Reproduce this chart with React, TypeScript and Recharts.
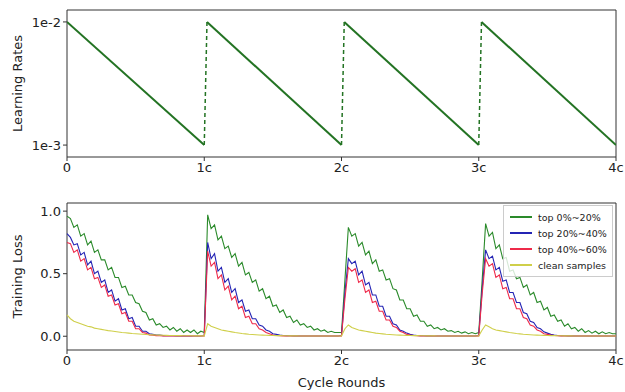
import React from "react";
import { LineChart, Line, XAxis, YAxis, ReferenceArea, Legend } from "recharts";

const cycleTicks = [0, 1, 2, 3, 4];
const lrTicks = [0.001, 0.01];
const lossTicks = [0, 0.5, 1];

// learning rate restarts (straight decay on log axis)
const lrHigh = 0.01;
const lrLow = 0.001;
const restartAt = [0, 1.02, 2.02, 3.02];
const cycleEnd = [1, 2, 3, 4];

// training loss, sampled every 1/40 cycle
const greenLoss = [
  0.96, 0.94, 0.87, 0.89, 0.8, 0.82, 0.73, 0.76, 0.67, 0.69, 0.61, 0.61, 0.53, 0.55, 0.47, 0.47, 0.39, 0.4, 0.33, 0.33,
  0.27, 0.26, 0.2, 0.19, 0.13, 0.14, 0.09, 0.1, 0.07, 0.08, 0.05, 0.07, 0.04, 0.06, 0.03, 0.05, 0.03, 0.05, 0.02, 0.04,
  0.03, 0.97, 0.86, 0.89, 0.77, 0.8, 0.7, 0.72, 0.63, 0.66, 0.56, 0.59, 0.49, 0.51, 0.43, 0.45, 0.36, 0.38, 0.3, 0.32,
  0.24, 0.25, 0.19, 0.21, 0.15, 0.16, 0.11, 0.13, 0.09, 0.1, 0.07, 0.08, 0.05, 0.06, 0.04, 0.05, 0.03, 0.04, 0.03, 0.03,
  0.03, 0.45, 0.87, 0.8, 0.82, 0.72, 0.75, 0.65, 0.68, 0.58, 0.61, 0.52, 0.53, 0.45, 0.46, 0.38, 0.37, 0.29, 0.29, 0.22,
  0.22, 0.16, 0.17, 0.12, 0.12, 0.08, 0.09, 0.06, 0.07, 0.05, 0.06, 0.04, 0.045, 0.03, 0.04, 0.025, 0.035, 0.02, 0.03, 0.02,
  0.03, 0.45, 0.9, 0.8, 0.83, 0.7, 0.73, 0.62, 0.63, 0.52, 0.53, 0.46, 0.47, 0.39, 0.41, 0.33, 0.35, 0.27, 0.28, 0.21,
  0.23, 0.16, 0.17, 0.12, 0.13, 0.08, 0.1, 0.06, 0.07, 0.04, 0.06, 0.03, 0.045, 0.025, 0.04, 0.02, 0.035, 0.02, 0.03, 0.02,
  0.02,
];

const blueLoss = [
  0.82, 0.79, 0.73, 0.74, 0.65, 0.67, 0.57, 0.6, 0.5, 0.52, 0.43, 0.45, 0.35, 0.37, 0.28, 0.3, 0.21, 0.22, 0.14, 0.15,
  0.08, 0.08, 0.04, 0.04, 0.02, 0.015, 0.01, 0.01, 0.005, 0.005, 0.004, 0.004, 0.003, 0.003, 0.003, 0.002, 0.002, 0.002, 0.002, 0.002,
  0.005, 0.75, 0.62, 0.66, 0.52, 0.55, 0.43, 0.46, 0.35, 0.38, 0.27, 0.29, 0.2, 0.21, 0.14, 0.14, 0.09, 0.08, 0.05, 0.04,
  0.02, 0.015, 0.01, 0.006, 0.005, 0.004, 0.003, 0.003, 0.002, 0.002, 0.002, 0.002, 0.002, 0.002, 0.002, 0.002, 0.002, 0.002, 0.002, 0.002,
  0.005, 0.35, 0.62, 0.58, 0.6, 0.49, 0.52, 0.41, 0.43, 0.33, 0.33, 0.24, 0.24, 0.16, 0.16, 0.1, 0.09, 0.05, 0.04, 0.025,
  0.015, 0.01, 0.006, 0.005, 0.004, 0.003, 0.003, 0.002, 0.002, 0.002, 0.002, 0.002, 0.002, 0.002, 0.002, 0.002, 0.002, 0.002, 0.002, 0.002,
  0.005, 0.38, 0.69, 0.62, 0.64, 0.53, 0.55, 0.44, 0.45, 0.35, 0.35, 0.27, 0.27, 0.19, 0.18, 0.12, 0.11, 0.07, 0.06, 0.035,
  0.025, 0.015, 0.01, 0.006, 0.005, 0.004, 0.003, 0.003, 0.002, 0.002, 0.002, 0.002, 0.002, 0.002, 0.002, 0.002, 0.002, 0.002, 0.002, 0.002,
  0.002,
];

const redLoss = [
  0.75, 0.74, 0.67, 0.69, 0.6, 0.62, 0.53, 0.55, 0.46, 0.47, 0.39, 0.41, 0.32, 0.33, 0.25, 0.26, 0.18, 0.19, 0.12, 0.12,
  0.06, 0.06, 0.03, 0.025, 0.01, 0.008, 0.005, 0.004, 0.003, 0.003, 0.002, 0.002, 0.002, 0.002, 0.002, 0.002, 0.002, 0.002, 0.002, 0.002,
  0.003, 0.68, 0.56, 0.59, 0.46, 0.49, 0.37, 0.4, 0.29, 0.32, 0.22, 0.24, 0.15, 0.16, 0.1, 0.1, 0.06, 0.05, 0.03, 0.02,
  0.01, 0.006, 0.004, 0.003, 0.002, 0.002, 0.002, 0.002, 0.002, 0.002, 0.002, 0.002, 0.002, 0.002, 0.002, 0.002, 0.002, 0.002, 0.002, 0.002,
  0.003, 0.3, 0.55, 0.52, 0.54, 0.43, 0.45, 0.35, 0.37, 0.27, 0.28, 0.2, 0.2, 0.13, 0.13, 0.08, 0.07, 0.04, 0.03, 0.015,
  0.01, 0.006, 0.004, 0.003, 0.002, 0.002, 0.002, 0.002, 0.002, 0.002, 0.002, 0.002, 0.002, 0.002, 0.002, 0.002, 0.002, 0.002, 0.002, 0.002,
  0.003, 0.34, 0.62, 0.56, 0.58, 0.47, 0.49, 0.38, 0.39, 0.3, 0.3, 0.22, 0.22, 0.15, 0.14, 0.09, 0.08, 0.05, 0.04, 0.02,
  0.015, 0.01, 0.006, 0.004, 0.003, 0.002, 0.002, 0.002, 0.002, 0.002, 0.002, 0.002, 0.002, 0.002, 0.002, 0.002, 0.002, 0.002, 0.002, 0.002,
  0.002,
];

const cleanLoss = [
  0.17, 0.14, 0.12, 0.11, 0.1, 0.09, 0.08, 0.075, 0.065, 0.06, 0.055, 0.05, 0.045, 0.042, 0.038, 0.034, 0.03, 0.028, 0.025, 0.022,
  0.02, 0.018, 0.016, 0.014, 0.012, 0.011, 0.01, 0.009, 0.008, 0.007, 0.006, 0.006, 0.005, 0.005, 0.004, 0.004, 0.004, 0.003, 0.003, 0.003,
  0.003, 0.1, 0.08, 0.07, 0.06, 0.05, 0.045, 0.04, 0.035, 0.03, 0.026, 0.022, 0.019, 0.016, 0.014, 0.012, 0.01, 0.009, 0.008, 0.007,
  0.006, 0.005, 0.005, 0.004, 0.004, 0.003, 0.003, 0.003, 0.002, 0.002, 0.002, 0.002, 0.002, 0.002, 0.002, 0.002, 0.002, 0.002, 0.002, 0.002,
  0.003, 0.06, 0.09, 0.07, 0.06, 0.05, 0.045, 0.04, 0.035, 0.03, 0.025, 0.022, 0.019, 0.016, 0.014, 0.012, 0.01, 0.009, 0.008, 0.007,
  0.006, 0.005, 0.005, 0.004, 0.004, 0.003, 0.003, 0.003, 0.002, 0.002, 0.002, 0.002, 0.002, 0.002, 0.002, 0.002, 0.002, 0.002, 0.002, 0.002,
  0.003, 0.05, 0.09, 0.075, 0.06, 0.05, 0.045, 0.04, 0.035, 0.03, 0.026, 0.022, 0.019, 0.016, 0.014, 0.012, 0.01, 0.009, 0.008, 0.007,
  0.006, 0.005, 0.005, 0.004, 0.004, 0.003, 0.003, 0.003, 0.002, 0.002, 0.002, 0.002, 0.002, 0.002, 0.002, 0.002, 0.002, 0.002, 0.002, 0.002,
  0.002,
];

const lossSeries = [
  { key: "g", name: "top 0%~20%", color: "#2a8a2a" },
  { key: "b", name: "top 20%~40%", color: "#2424b4" },
  { key: "r", name: "top 40%~60%", color: "#ee2a4a" },
  { key: "y", name: "clean samples", color: "#cfcf4a" },
];

const lossData = greenLoss.map((g, i) => ({
  x: i / 40,
  g,
  b: blueLoss[i],
  r: redLoss[i],
  y: cleanLoss[i],
}));

const FONT = "'DejaVu Sans', sans-serif";
const tickStyle = { fontSize: 13, fill: "#222", fontFamily: FONT };
const cycleLabel = (v: number) => (v === 0 ? "0" : `${v}c`);

const YTitle = (props: any) => {
  const { viewBox, value } = props;
  const cy = viewBox.y + viewBox.height / 2;
  const cx = 17;
  return (
    <text
      x={cx}
      y={cy}
      transform={`rotate(-90 ${cx} ${cy})`}
      textAnchor="middle"
      dominantBaseline="central"
      fontSize={13}
      fontFamily={FONT}
      fill="#222"
    >
      {value}
    </text>
  );
};

const LossLegend = () => (
  <div
    style={{
      width: 108,
      border: "1px solid #ccc",
      background: "rgba(255,255,255,0.8)",
      padding: "3px 0 3px 0",
      fontFamily: FONT,
      fontSize: 9.5,
      color: "#222",
    }}
  >
    {lossSeries.map((s) => (
      <div key={s.key} style={{ display: "flex", alignItems: "center", height: 16 }}>
        <span style={{ display: "inline-block", width: 22, height: 2, background: s.color, margin: "0 6px 0 6px" }} />
        <span>{s.name}</span>
      </div>
    ))}
  </div>
);

export default function App() {
  return (
    <div style={{ position: "absolute", left: 0, top: 0, width: 625, height: 392, background: "#fff" }}>
      <LineChart width={625} height={185} margin={{ top: 10, right: 9, left: 0, bottom: 0 }}>
        <XAxis
          type="number"
          dataKey="x"
          domain={[0, 4]}
          ticks={cycleTicks}
          tickFormatter={cycleLabel}
          tick={tickStyle}
          tickSize={4}
          tickMargin={2}
          height={28}
          axisLine={false}
          tickLine={{ stroke: "#333" }}
          allowDataOverflow
        />
        <YAxis
          type="number"
          scale="log"
          domain={[8e-4, 1.25e-2]}
          ticks={lrTicks}
          tickFormatter={(v: number) => (v > 0.005 ? "1e-2" : "1e-3")}
          tick={tickStyle}
          tickSize={4}
          tickMargin={2}
          width={67}
          axisLine={false}
          tickLine={{ stroke: "#333" }}
          allowDataOverflow
          label={<YTitle value="Learning Rates" />}
        />
        <ReferenceArea x1={0} x2={4} y1={8e-4} y2={1.25e-2} fill="none" stroke="#333" strokeWidth={1} />
        {restartAt.map((s, i) => (
          <Line
            key={`lr${i}`}
            data={[
              { x: s, lr: lrHigh },
              { x: cycleEnd[i], lr: lrLow },
            ]}
            dataKey="lr"
            stroke="#237323"
            strokeWidth={2}
            dot={false}
            isAnimationActive={false}
          />
        ))}
        {cycleEnd.slice(0, 3).map((e, i) => (
          <Line
            key={`jump${i}`}
            data={[
              { x: e, lr: lrLow },
              { x: restartAt[i + 1], lr: lrHigh },
            ]}
            dataKey="lr"
            stroke="#237323"
            strokeWidth={1.5}
            strokeDasharray="4 3"
            dot={false}
            isAnimationActive={false}
          />
        ))}
      </LineChart>

      <LineChart width={625} height={207} data={lossData} margin={{ top: 18, right: 9, left: 0, bottom: 0 }}>
        <XAxis
          type="number"
          dataKey="x"
          domain={[0, 4]}
          ticks={cycleTicks}
          tickFormatter={cycleLabel}
          tick={tickStyle}
          tickSize={4}
          tickMargin={2}
          height={42}
          axisLine={false}
          tickLine={{ stroke: "#333" }}
          label={{ value: "Cycle Rounds", position: "insideBottom", offset: 5, fontSize: 13, fill: "#222", fontFamily: FONT }}
        />
        <YAxis
          type="number"
          domain={[-0.11, 1.065]}
          ticks={lossTicks}
          tickFormatter={(v: number) => v.toFixed(1)}
          tick={tickStyle}
          tickSize={4}
          tickMargin={2}
          width={67}
          axisLine={false}
          tickLine={{ stroke: "#333" }}
          allowDataOverflow
          label={<YTitle value="Training Loss" />}
        />
        <ReferenceArea x1={0} x2={4} y1={-0.11} y2={1.065} fill="none" stroke="#333" strokeWidth={1} />
        {lossSeries.map((s) => (
          <Line
            key={s.key}
            dataKey={s.key}
            name={s.name}
            stroke={s.color}
            strokeWidth={1.1}
            dot={false}
            isAnimationActive={false}
          />
        ))}
        <Legend
          layout="vertical"
          align="center"
          verticalAlign="middle"
          wrapperStyle={{ top: 20, right: 12, left: "auto", width: "auto" }}
          content={<LossLegend />}
        />
      </LineChart>
    </div>
  );
}
